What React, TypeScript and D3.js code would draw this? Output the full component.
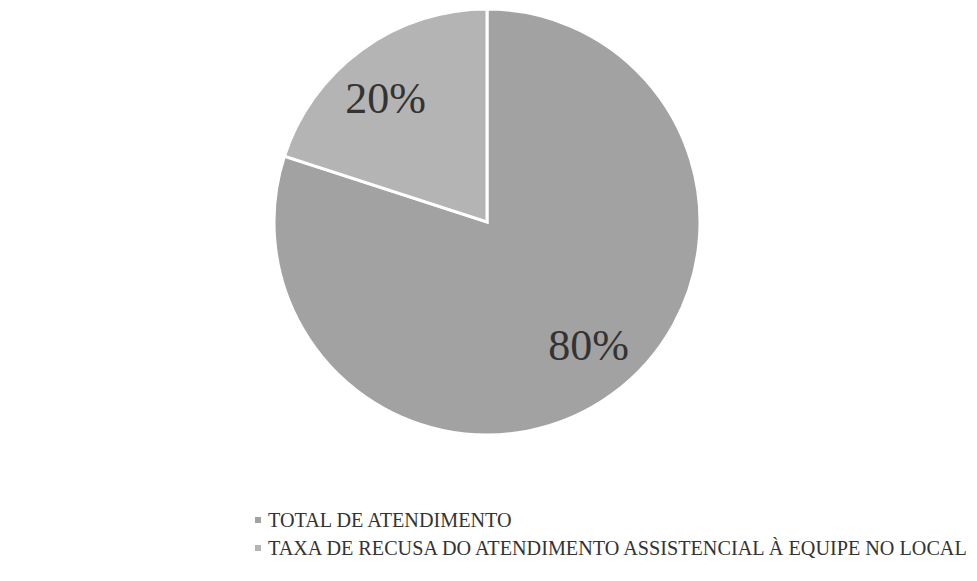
import * as d3 from "d3";

const categories = [
  "TOTAL DE ATENDIMENTO",
  "TAXA DE RECUSA DO ATENDIMENTO ASSISTENCIAL À EQUIPE NO LOCAL",
];
const values = [80, 20];
const colors = ["#a2a2a2", "#b4b4b4"];

export default function App() {
  const width = 977;
  const height = 581;
  const cx = 487;
  const cy = 222;
  const r = 213;

  const pie = d3.pie<number>().sort(null).value((d) => d);
  const arcs = pie(values);
  const arc = d3.arc<d3.PieArcDatum<number>>().innerRadius(0).outerRadius(r);
  const total = d3.sum(values);
  const labelR = r * 0.75;

  return (
    <svg
      width={width}
      height={height}
      style={{ position: "absolute", left: 0, top: 0, background: "#fff" }}
      fontFamily="'Liberation Serif', 'Times New Roman', serif"
    >
      <g transform={`translate(${cx},${cy})`}>
        {arcs.map((a, i) => (
          <path
            key={i}
            d={arc(a) ?? ""}
            fill={colors[i]}
            stroke="#fff"
            strokeWidth={3}
          />
        ))}
        {arcs.map((a, i) => {
          // label sits a little counter-clockwise of the slice middle
          const ang = (a.startAngle + a.endAngle) / 2 - 0.06;
          const x = Math.sin(ang) * labelR;
          const y = -Math.cos(ang) * labelR;
          return (
            <text
              key={i}
              x={x}
              y={y}
              textAnchor="middle"
              dominantBaseline="central"
              fontSize={44}
              fontFamily="'Liberation Serif', serif"
              fill="#333"
            >
              {Math.round((a.data / total) * 100)}%
            </text>
          );
        })}
      </g>
      {categories.map((c, i) => (
        <g key={c} transform={`translate(255,${520 + i * 28})`}>
          <rect x={0} y={-3} width={6} height={6} fill={colors[i]} />
          <text x={13} y={0} dominantBaseline="central" fontSize={20.2} fill="#333">
            {c}
          </text>
        </g>
      ))}
    </svg>
  );
}
